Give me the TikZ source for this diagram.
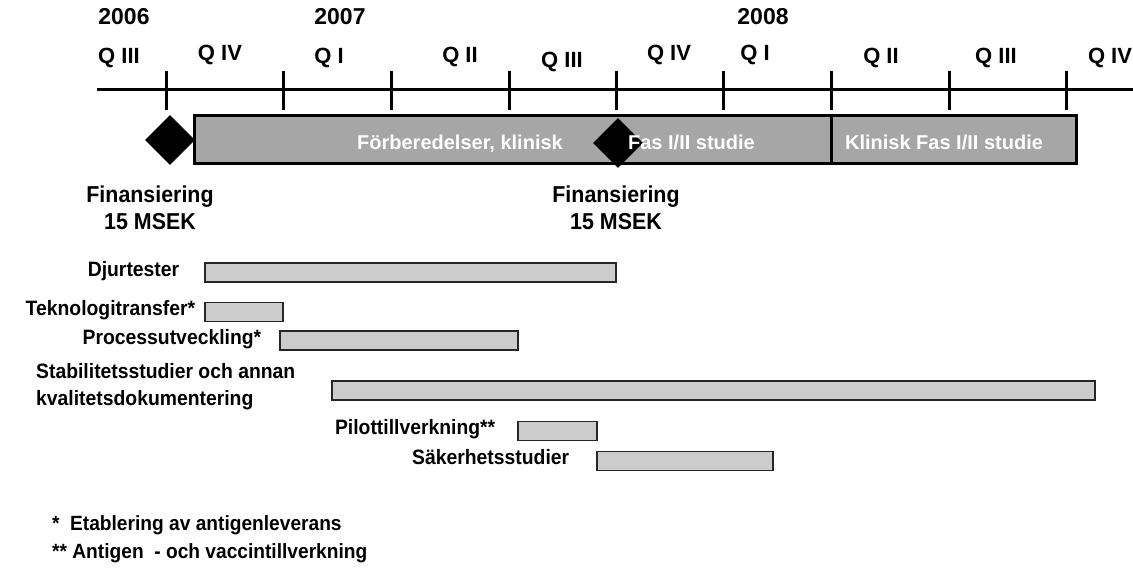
\documentclass[tikz,border=0pt]{standalone}
\usepackage{fontspec}
\setmainfont{Liberation Sans}
\newfontfamily\narrowsans{Liberation Sans}[FakeStretch=0.93]
\usetikzlibrary{positioning,shapes.geometric}

\definecolor{phasegray}{RGB}{166,166,166}
\definecolor{taskgray}{RGB}{204,204,204}

\begin{document}
\begin{tikzpicture}[
  x=1pt, y=-1pt,
  qtr/.style={inner sep=0pt, text height=.72em, text depth=0pt,
              font=\fontsize{22}{26}\selectfont\bfseries},
  yr/.style={qtr, font=\fontsize{23}{26}\selectfont\bfseries},
  axis/.style={line width=3pt, draw=black},
  phase/.style={draw=black, fill=phasegray, line width=3pt,
                minimum height=48pt, inner sep=0pt},
  phtxt/.style={text=white, inner sep=0pt, text height=.72em, text depth=0pt,
                font=\fontsize{20}{24}\selectfont\bfseries},
  mile/.style={diamond, fill=black, minimum size=50pt, inner sep=0pt},
  fin/.style={align=center, inner sep=0pt, text height=.72em, text depth=0pt,
              font=\fontsize{23}{27}\selectfont\narrowsans\bfseries},
  bar/.style={draw=black!85, fill=taskgray, line width=1.2pt,
              minimum height=19pt, inner sep=0pt},
  lab/.style={inner sep=0pt, text height=.72em, text depth=0pt,
              font=\fontsize{20.8}{27}\selectfont\narrowsans\bfseries},
  foot/.style={anchor=west, inner sep=0pt, text height=.72em, text depth=0pt,
               font=\fontsize{20.6}{23}\selectfont\narrowsans\bfseries},
]
\useasboundingbox (0,0) rectangle (1133,576);

% years and quarters
\node[yr] (y06) at (124,21) {2006};
\node[yr] (y07) at (340,21) {2007};
\node[yr] (y08) at (763,21) {2008};
\foreach \x/\y/\q [count=\i] in {119/60/Q III, 220/57/Q IV, 329/60/Q I, 460/59/Q II,
    562/64/Q III, 669/57/Q IV, 755/57/Q I, 881/60/Q II, 996/60/Q III, 1110/60/Q IV}
  \node[qtr] (q\i) at (\x,\y) {\q};

% time axis with quarter ticks
\draw[axis] (97,89) -- (1133,89);
\foreach \x in {166,283,391,509,616,723,831,949,1066}
  \draw[axis] (\x,71) -- (\x,110);

% clinical phases
\node[phase, minimum width=637pt] (ph1) at (512.5,139) {};
\node[phase, minimum width=245pt] (ph2) at (953.5,139) {};

% funding milestones
\node[mile] (m1) at (170,140) {};
\node[mile] (m2) at (618,143) {};
\node[phtxt] (ph1a) at (460,146) {Förberedelser, klinisk};
\node[phtxt] (ph1b) at (691.5,146) {Fas I/II studie};
\node[phtxt] (ph2a) at (944,146) {Klinisk Fas I/II studie};
\node[fin] (f1) at (150,226) {Finansiering\\15 MSEK};
\node[fin] (f2) at (616,226) {Finansiering\\15 MSEK};

% #1 node-id, #2 start, #3 end, #4 y, #5 gap to label, #6 label
\newcommand{\task}[6]{%
  \node[bar, minimum width={#3-#2}] (#1) at ({(#2+#3)/2},#4) {};
  \node[lab, left=#5 of #1] (#1-lab) {#6};
}

\task{djur}{205}{616}{272.5}{25pt}{Djurtester}
\task{tekn}{205}{283}{312}{9pt}{Teknologitransfer*}
\task{proc}{280}{518}{340.5}{18pt}{Processutveckling*}
\node[bar, minimum width=763pt] (stab) at (713.5,390.5) {};
\node[lab, anchor=west, align=left] (stab-lab) at (36,401.5)
  {Stabilitetsstudier och annan\\kvalitetsdokumentering};
\task{pilot}{518}{597}{431}{22pt}{Pilottillverkning**}
\task{saker}{597}{773}{461}{27pt}{Säkerhetsstudier}

% footnotes
\node[foot] (n1) at (52,527) {*\hspace{10.5pt}Etablering av antigenleverans};
\node[foot] (n2) at (52,555) {** Antigen\ \ - och vaccintillverkning};

\end{tikzpicture}
\end{document}
